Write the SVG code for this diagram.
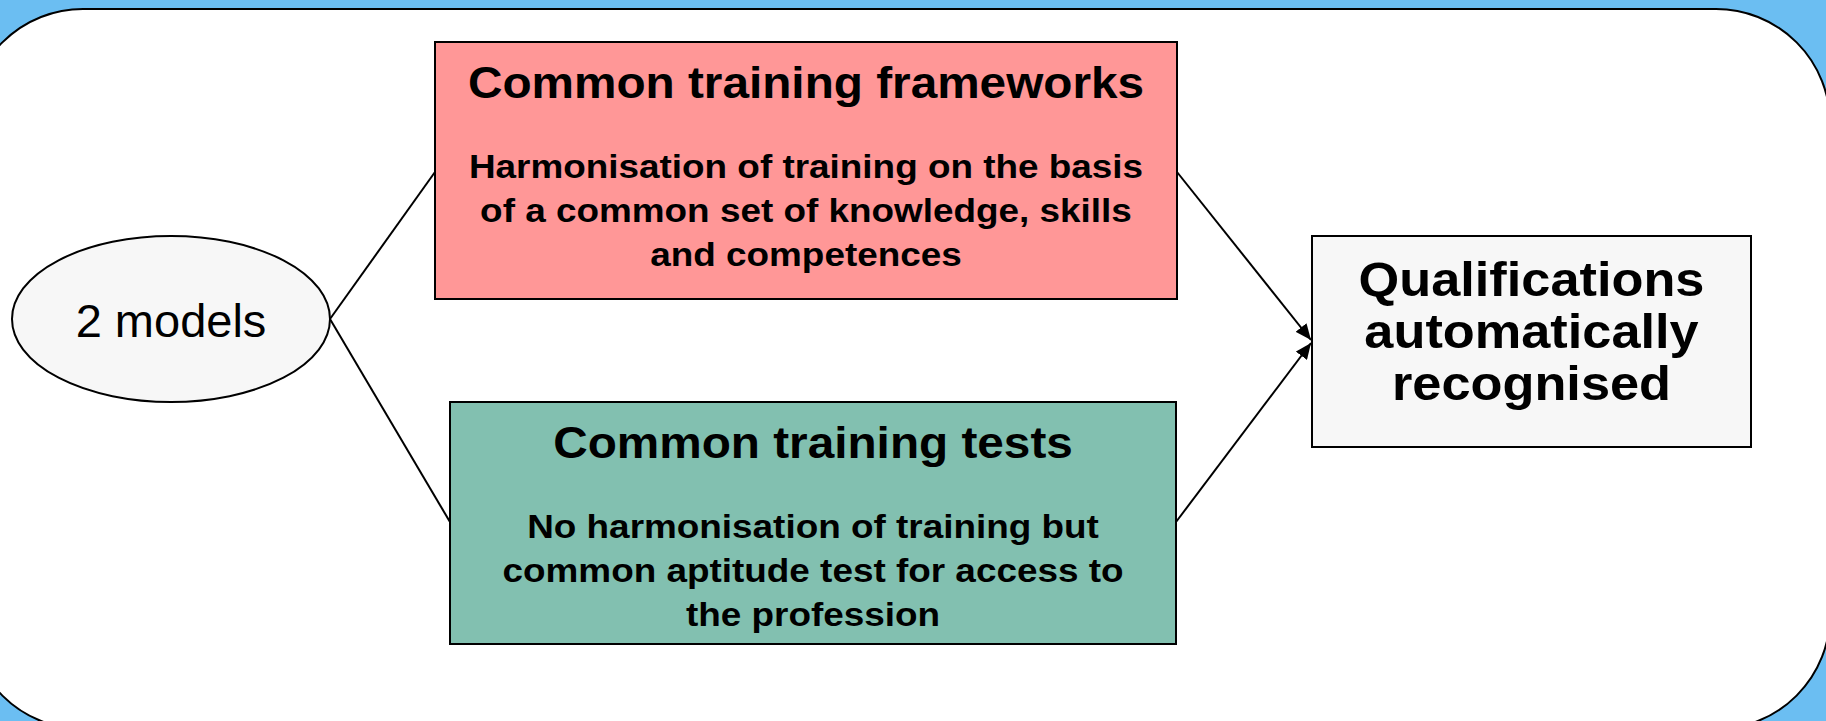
<svg xmlns="http://www.w3.org/2000/svg" width="1826" height="721" viewBox="0 0 1826 721">
<style>
.t{font-family:"Liberation Sans",Arial,sans-serif;font-weight:bold;text-anchor:middle;fill:#000}
.title{font-size:44px}
.body{font-size:34px}
.big{font-size:48px}
.box{stroke:#000;stroke-width:2}
.conn{stroke:#000;stroke-width:2;fill:none}
</style>
<defs>
<marker id="arr" markerUnits="userSpaceOnUse" markerWidth="18" markerHeight="14" refX="16" refY="7" orient="auto">
<path d="M0,0 L16,7 L0,14 Z" fill="#000"/>
</marker>
</defs>
<rect x="0" y="0" width="1826" height="721" fill="#6BBEF2"/>
<rect x="-31" y="9" width="1861" height="720" rx="114" ry="114" fill="#FFFFFF" stroke="#000" stroke-width="2"/>
<g id="connectors">
<line class="conn" x1="330" y1="319" x2="435" y2="172"/>
<line class="conn" x1="330" y1="319" x2="450" y2="522"/>
<line class="conn" x1="1177" y1="172" x2="1311" y2="340" marker-end="url(#arr)"/>
<line class="conn" x1="1176" y1="522" x2="1311" y2="343" marker-end="url(#arr)"/>
</g>
<g id="models">
<ellipse cx="171" cy="319" rx="159" ry="83" fill="#F7F7F7" stroke="#000" stroke-width="2"/>
<text x="171" y="337" font-family="'Liberation Sans',Arial,sans-serif" font-size="47" text-anchor="middle">2 models</text>
</g>
<g id="frameworks">
<rect class="box" x="435" y="42" width="742" height="257" fill="#FF9797"/>
<g transform="translate(806,0) scale(1.085,1)">
<text class="t title" x="0" y="98">Common training frameworks</text>
<text class="t body" x="0" y="178">Harmonisation of training on the basis</text>
<text class="t body" x="0" y="222">of a common set of knowledge, skills</text>
<text class="t body" x="0" y="266">and competences</text>
</g>
</g>
<g id="tests">
<rect class="box" x="450" y="402" width="726" height="242" fill="#82C0B0"/>
<g transform="translate(813,0) scale(1.085,1)">
<text class="t title" x="0" y="458">Common training tests</text>
<text class="t body" x="0" y="538">No harmonisation of training but</text>
<text class="t body" x="0" y="582">common aptitude test for access to</text>
<text class="t body" x="0" y="626">the profession</text>
</g>
</g>
<g id="qualifications">
<rect class="box" x="1312" y="236" width="439" height="211" fill="#F7F7F7"/>
<g transform="translate(1531.5,0) scale(1.09,1)">
<text class="t big" x="0" y="296">Qualifications</text>
<text class="t big" x="0" y="348">automatically</text>
<text class="t big" x="0" y="400">recognised</text>
</g>
</g>
</svg>
